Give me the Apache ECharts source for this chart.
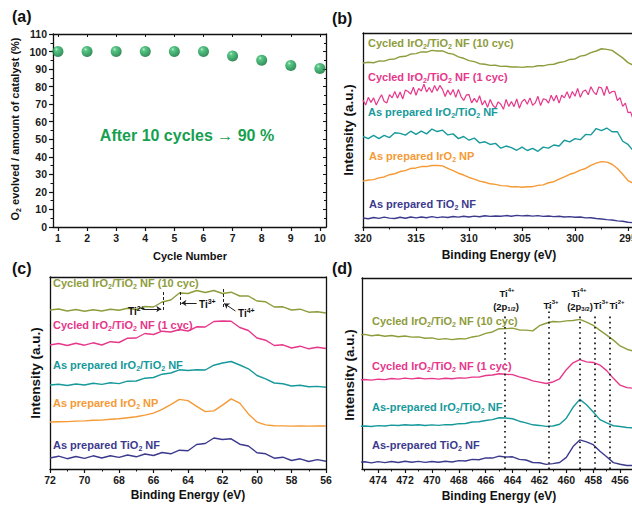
<!DOCTYPE html>
<html>
<head>
<meta charset="utf-8">
<title>XPS figure</title>
<script src="https://cdn.jsdelivr.net/npm/echarts@6.0.0/dist/echarts.min.js"></script>
<style>
html,body{margin:0;padding:0;background:#ffffff;}
#chart{width:632px;height:506px;}
</style>
</head>
<body>
<div id="chart"></div>
<script>
// ---------------- data ----------------
const cycles = [1,2,3,4,5,6,7,8,9,10];
const o2Percent = [100,100,100,100,100,100,97.5,95,92,90.3];
const cycleTicks = [1,2,3,4,5,6,7,8,9,10];

// panel (b) Ir 4d region, binding energy (eV)
const bEnergy = [320,319.5,319,318.5,318,317.5,317,316.5,316,315.5,315,314.5,314,313.5,313,312.5,312,311.5,311,310.5,310,309.5,309,308.5,308,307.5,307,306.5,306,305.5,305,304.5,304,303.5,303,302.5,302,301.5,301,300.5,300,299.5,299,298.5,298,297.5,297,296.5,296,295.5,295,294.5,294,293.5,293];
const bEnergyFine = [320,319.75,319.5,319.25,319,318.75,318.5,318.25,318,317.75,317.5,317.25,317,316.75,316.5,316.25,316,315.75,315.5,315.25,315,314.75,314.5,314.25,314,313.75,313.5,313.25,313,312.75,312.5,312.25,312,311.75,311.5,311.25,311,310.75,310.5,310.25,310,309.75,309.5,309.25,309,308.75,308.5,308.25,308,307.75,307.5,307.25,307,306.75,306.5,306.25,306,305.75,305.5,305.25,305,304.75,304.5,304.25,304,303.75,303.5,303.25,303,302.75,302.5,302.25,302,301.75,301.5,301.25,301,300.75,300.5,300.25,300,299.75,299.5,299.25,299,298.75,298.5,298.25,298,297.75,297.5,297.25,297,296.75,296.5,296.25,296,295.75,295.5,295.25,295,294.75,294.5,294.25,294,293.75,293.5,293.25,293];
const bCycled10 = [155,155.6,155.2,156.8,156.7,158.4,158.8,160.9,161.3,163.4,163.8,165.4,165.3,166.9,166.3,166.4,164.2,163.3,160.8,159.4,157.2,156.3,154.3,153.8,152.7,152.8,151.8,151.9,151.2,151.3,150.8,151.4,151.3,152.3,152.3,153.4,153.8,155.4,156.3,158.3,158.8,161.4,162.3,164.8,166.3,168.4,167.8,166.9,163.3,159.8,155.3,152.8,150.3,149.8,149];
const bCycled1 = [120,115.25,122.5,117.75,122,115.25,120.5,125,118.5,117.25,125,122,128,121.75,127.5,121,129.5,128,125.5,132,124.5,131,128.5,135,127.5,131.75,127,133.75,128.5,133.75,130,123.25,129.5,124.75,130,122.5,130,123.25,119.5,124.75,125,117.25,121.5,117.75,124,115.25,119.5,113,120.5,115,112.5,118.25,116,111.25,120.5,114,118.5,113.75,121,112.25,118.5,120.75,116,122,115,117.25,123.5,114.75,121,120.5,117,124.5,119,124.5,117,124.5,122,127.75,121.5,128,123.5,131,122.5,128,129.5,125,132.5,127.75,125,132.25,131.5,124.25,133,126,128,128.25,119.5,122.25,114,117,108,108.5,101,105.5,99,101,98,100.5,97];
const bPrepIrTi = [85.5,83.5,86.5,83.5,86.5,84.5,89,88.5,86.8,90.5,87.5,90.5,88,92.5,90.2,91.5,87,88,83.5,85.5,82,84,79.5,80.5,78,79,74.5,76.5,75,72.5,75.5,72.3,74.3,71.5,75.5,74.5,77.5,76.5,82,80.5,83.5,82.5,87.5,87,93,91,93.5,90,90,81,78,72,72.5,69.5,70];
const bPrepIr = [43.3,44.4,44.8,46.4,47.3,49.4,50.3,52.4,53.3,55.3,55.8,57.1,57.1,58.1,58.1,57.8,55.3,53.3,50.8,49.1,46.8,45.3,43.3,42.3,40.8,40.3,39.1,38.9,38,38.1,37.5,38,38.1,39.3,39.8,41.8,42.8,45.3,47.3,49.8,51.3,53.8,55.3,58.3,60.3,61.8,61.3,59.3,55.3,49.8,43.8,41.3,39.3,38.7,37.9];
const bPrepTi = [8.5,7.8,9,8.2,9.3,8.4,8,9.2,8.3,9.5,8.6,9.4,8.7,9.8,8.9,9.6,9,9.9,9.3,10.2,9.5,10.3,9.7,10.6,10,10.4,10.1,10.8,10.2,11,10.5,10.9,10.3,10.7,10,10.4,9.8,10.1,9.4,9.8,9.2,9.4,8.6,8.8,8,7.6,7,6.6,5.8,5.4,4.5,4,3.6,3.3,3];

// panel (c) Ti 3p / Ir 5p region
const cEnergy = [72,71.5,71,70.5,70,69.5,69,68.5,68,67.5,67,66.5,66,65.5,65,64.5,64,63.5,63,62.5,62,61.5,61,60.5,60,59.5,59,58.5,58,57.5,57,56.5,56];
const cCycled10 = [159,160,158,159.5,157.8,159.2,158,159.8,158.8,160.8,159.5,162.5,162,167,169,176,175.5,178.5,176.5,178.5,175.5,176.8,173,173,168,167.2,162,162.2,159,159.8,156.8,157.2,156];
const cCycled1 = [124,125.5,123.5,125.8,123.8,126.2,124,127.3,126.5,130.8,131,135.5,134.5,137.8,137,139.5,138,142.2,142,147.5,148,147.8,141.5,138.5,131,128.8,123.5,124.2,121,122.8,120.2,121.8,120.5];
const cPrepIrTi = [84,84.8,83.5,85,84,85.7,84.6,86.2,85.4,87.8,88,90.8,91.5,94.8,96,99.2,98.5,99.2,99,103.8,106,107.5,104,100.2,93.5,90.2,86,85.2,83,83.7,82.2,82.6,81.8];
const cPrepIr = [47,47.3,47.4,47.9,48.1,48.7,48.9,49.7,50.2,51.3,52.2,53.9,55.9,59.6,64.4,69.6,68.4,62.6,57.4,58.1,63.9,70.1,65.9,55.1,46.9,44.1,43.2,43.1,42.9,43.1,42.9,43.1,43];
const cPrepTi = [11,12.8,10.3,12.5,10.6,13.2,11,13.3,11.6,14,12.2,15,13.5,16.5,15.2,18.8,18.3,24.5,25.5,31,29.5,30.2,24.8,23,16.3,15.2,10.8,11.8,8.5,10.2,7.5,9.4,7.8];

// panel (d) Ti 2p region
const dEnergy = [475.5,475,474.5,474,473.5,473,472.5,472,471.5,471,470.5,470,469.5,469,468.5,468,467.5,467,466.5,466,465.5,465,464.5,464,463.5,463,462.5,462,461.5,461,460.5,460,459.5,459,458.5,458,457.5,457,456.5,456,455.5,455,454.5];
const dCycled10 = [130,130.4,129.1,129.8,128.6,129.3,128.1,128.8,127.7,128,126.6,127,125.6,126.3,125.3,126.2,126,127.9,129,131.4,132.7,135.9,136,136.4,134.7,134.5,133.8,138.8,141.2,142.9,142.5,143.5,143.8,144.9,142.3,139.2,134.3,129.7,124.8,119.2,116,114.1,112.5];
const dCycled1 = [86.3,86.7,86.1,87,86.6,87.6,87.1,88,87.3,88.1,87.3,87.8,87,87.9,87.4,88.3,88,89,89,90.6,91,92.3,91.8,91.4,89.2,87.7,85.3,84.1,82.8,84.3,87.4,96.2,102.8,105.9,103.8,103.2,100.7,95.3,87.8,81.2,78.8,78.2,77.4];
const dPrepIrTi = [41.3,41.7,41.2,42,41.7,42.5,42.1,42.9,42.4,42.8,42.2,42.7,42.3,43,42.9,43.9,44.1,45.5,45.8,47,47.8,49.6,49.4,48.7,46.3,44.7,42.8,42.2,41.3,41.7,43.3,49.2,59.8,67.4,62.3,55.2,47.8,44.6,41.9,41.1,40.2,39.9,39.4];
const dPrepTi = [6.3,7,5.9,7.1,6.2,7.3,6.3,7.5,6.5,7.4,6.4,7.3,6.5,7.5,6.8,8.1,7.7,9.3,9,10.8,10.6,12.4,11.6,11.8,9.3,8.7,6.3,6,4.5,5.2,6.3,11.3,21.7,28.2,26.2,23.6,17.2,11.8,6.2,4.6,3.4,3.4,2.9];
const dMajorTicks = [474,472,470,468,466,464,462,460,458,456];
const dMinorTicks = [475,473,471,469,467,465,463,461,459,457,455];

// annotation marks: [energy, low, high] and arrows [fromE, fromH, toE, toH]
const cTiLines = [[65.45,159,179],[64.46,164,179],[61.97,162,181]];
const cTiArrows = [[66.6,160,65.55,160],[63.5,166,64.38,166],[61.25,158,61.9,165.5]];
const dTiLines = [[464.6,0,148],[461.3,0,157],[459.0,0,151],[457.9,0,151],[456.8,0,151]];

// ---------------- styling ----------------
const F = '"Liberation Sans", Arial, Helvetica, sans-serif';
const COL = {olive:'#8e9c3c', pink:'#e6378b', teal:'#17999b', orange:'#f59a35', navy:'#3c3a8d', green:'#16a050', ink:'#111111'};

function rt(s){
  return s.split(/(~[^~]*~|\^[^^]*\^)/).filter(p => p.length).map(p => {
    if (p[0] === '~') return '{s|' + p.slice(1,-1) + '}';
    if (p[0] === '^') return '{p|' + p.slice(1,-1) + '}';
    return '{n|' + p + '}';
  }).join('');
}
function richFor(color, size){
  const small = Math.round(size * 0.66);
  const base = {fill:color, color:color, fontFamily:F, fontWeight:'bold'};
  return {
    n: Object.assign({}, base, {fontSize:size, lineHeight:size + 3}),
    s: Object.assign({}, base, {fontSize:small, lineHeight:small + 1, verticalAlign:'bottom'}),
    p: Object.assign({}, base, {fontSize:small, lineHeight:small + 1, verticalAlign:'top'})
  };
}
function txt(s, x, y, color, size, align, rot){
  const el = {type:'text', x:x, y:y, silent:true, z:100,
    style:{text:rt(s), rich:richFor(color, size), fill:color, font:'bold ' + size + 'px ' + F,
      align:align || 'left', verticalAlign:'middle'}};
  if (rot) el.rotation = rot;
  return el;
}

const lineStyleAx = {show:true, onZero:false, lineStyle:{color:COL.ink, width:1.3}};
const tickLbl = {fontSize:10.5, fontWeight:'bold', color:'#1a1a1a', fontFamily:F};
const noSplit = {show:false};
const LW = 1.4;

function spec(name, E, V, color, xi, yi, extra){
  return Object.assign({
    type:'line', name:name, xAxisIndex:xi, yAxisIndex:yi,
    data:V.map((v, i) => [E[i], v]),
    showSymbol:false, symbol:'none', silent:true,
    lineStyle:{color:color, width:LW}, itemStyle:{color:color}
  }, extra || {});
}

const PI2 = Math.PI / 2;

const option = {
  animation:false,
  backgroundColor:'#ffffff',
  grid:[
    {left:53, top:34, width:273, height:193, containLabel:false, outerBoundsMode:'none'},
    {left:363, top:33, width:318, height:194, containLabel:false, outerBoundsMode:'none'},
    {left:50, top:277, width:276, height:192, containLabel:false, outerBoundsMode:'none'},
    {left:362, top:278, width:285, height:191, containLabel:false, outerBoundsMode:'none'}
  ],
  xAxis:[
    {gridIndex:0, type:'value', min:0.83, max:10.21, position:'bottom', axisLine:lineStyleAx,
      axisTick:{show:true, inside:false, length:4, customValues:cycleTicks, lineStyle:{color:COL.ink, width:1.2}},
      axisLabel:Object.assign({customValues:cycleTicks, margin:5}, tickLbl), splitLine:noSplit},
    {gridIndex:0, type:'value', min:0.83, max:10.21, position:'top', axisLine:lineStyleAx,
      axisTick:{show:true, inside:true, length:3, customValues:cycleTicks, lineStyle:{color:COL.ink, width:1}},
      axisLabel:{show:false}, splitLine:noSplit},
    {gridIndex:1, type:'value', min:290, max:320, interval:5, inverse:true, position:'bottom', axisLine:lineStyleAx,
      axisTick:{show:true, inside:false, length:4, lineStyle:{color:COL.ink, width:1.2}},
      minorTick:{show:true, splitNumber:2, length:2.5, lineStyle:{color:COL.ink, width:1}},
      axisLabel:Object.assign({margin:5, showMinLabel:false}, tickLbl), splitLine:noSplit, minorSplitLine:noSplit},
    {gridIndex:1, type:'value', min:0, max:1, position:'top', axisLine:lineStyleAx, axisTick:{show:false}, axisLabel:{show:false}, splitLine:noSplit},
    {gridIndex:2, type:'value', min:56, max:72, interval:2, inverse:true, position:'bottom', axisLine:lineStyleAx,
      axisTick:{show:true, inside:false, length:4, lineStyle:{color:COL.ink, width:1.2}},
      minorTick:{show:true, splitNumber:2, length:2.5, lineStyle:{color:COL.ink, width:1}},
      axisLabel:Object.assign({margin:5}, tickLbl), splitLine:noSplit, minorSplitLine:noSplit},
    {gridIndex:2, type:'value', min:0, max:1, position:'top', axisLine:lineStyleAx, axisTick:{show:false}, axisLabel:{show:false}, splitLine:noSplit},
    {gridIndex:3, type:'value', min:454, max:475.2, inverse:true, position:'bottom', axisLine:lineStyleAx,
      axisTick:{show:true, inside:false, length:4, customValues:dMajorTicks, lineStyle:{color:COL.ink, width:1.2}},
      axisLabel:Object.assign({customValues:dMajorTicks, margin:5}, tickLbl), splitLine:noSplit},
    {gridIndex:3, type:'value', min:454, max:475.2, inverse:true, position:'bottom', axisLine:{show:false},
      axisTick:{show:true, inside:false, length:2.5, customValues:dMinorTicks, lineStyle:{color:COL.ink, width:1}},
      axisLabel:{show:false}, splitLine:noSplit},
    {gridIndex:3, type:'value', min:0, max:1, position:'top', axisLine:lineStyleAx, axisTick:{show:false}, axisLabel:{show:false}, splitLine:noSplit}
  ],
  yAxis:[
    {gridIndex:0, type:'value', min:0, max:110, interval:10, position:'left', axisLine:lineStyleAx,
      axisTick:{show:true, inside:false, length:4, lineStyle:{color:COL.ink, width:1.2}},
      minorTick:{show:true, splitNumber:2, length:2.5, lineStyle:{color:COL.ink, width:1}},
      axisLabel:Object.assign({margin:6}, tickLbl), splitLine:noSplit, minorSplitLine:noSplit},
    {gridIndex:0, type:'value', min:0, max:110, interval:10, position:'right', axisLine:lineStyleAx,
      axisTick:{show:true, inside:true, length:3, lineStyle:{color:COL.ink, width:1}},
      minorTick:{show:true, splitNumber:2, length:2, lineStyle:{color:COL.ink, width:1}},
      axisLabel:{show:false}, splitLine:noSplit, minorSplitLine:noSplit},
    {gridIndex:1, type:'value', min:0, max:183.3, position:'left', axisLine:lineStyleAx, axisTick:{show:false}, axisLabel:{show:false}, splitLine:noSplit},
    {gridIndex:2, type:'value', min:0, max:192, position:'left', axisLine:lineStyleAx, axisTick:{show:false}, axisLabel:{show:false}, splitLine:noSplit},
    {gridIndex:2, type:'value', min:0, max:192, position:'right', axisLine:lineStyleAx, axisTick:{show:false}, axisLabel:{show:false}, splitLine:noSplit},
    {gridIndex:3, type:'value', min:0, max:185, position:'left', axisLine:lineStyleAx, axisTick:{show:false}, axisLabel:{show:false}, splitLine:noSplit}
  ],
  series:[
    {type:'scatter', name:'O2 evolved', xAxisIndex:0, yAxisIndex:0, silent:true,
      data:cycles.map((c, i) => [c, o2Percent[i]]), symbolSize:11,
      itemStyle:{color:{type:'radial', x:0.36, y:0.3, r:0.75, colorStops:[
        {offset:0, color:'#b9efcc'}, {offset:0.2, color:'#34b86b'}, {offset:0.6, color:'#119649'}, {offset:1, color:'#086630'}]}}},

    spec('b10', bEnergy, bCycled10, COL.olive, 2, 2),
    spec('b1', bEnergyFine, bCycled1, COL.pink, 2, 2, {lineStyle:{color:COL.pink, width:1.2}}),
    spec('bIrTi', bEnergy, bPrepIrTi, COL.teal, 2, 2),
    spec('bIr', bEnergy, bPrepIr, COL.orange, 2, 2),
    spec('bTi', bEnergy, bPrepTi, COL.navy, 2, 2),

    spec('c10', cEnergy, cCycled10, COL.olive, 4, 3, {
      markLine:{silent:true, animation:false, symbol:['none','none'], symbolSize:6, label:{show:false},
        lineStyle:{color:'#222', type:[3,2], width:1},
        data: cTiLines.map(l => [{coord:[l[0], l[1]]}, {coord:[l[0], l[2]]}]).concat(
          cTiArrows.map(a => [{coord:[a[0], a[1]], lineStyle:{type:'solid', color:'#222', width:1}}, {coord:[a[2], a[3]], symbol:'arrow', symbolSize:5}]))
      }}),
    spec('c1', cEnergy, cCycled1, COL.pink, 4, 3),
    spec('cIrTi', cEnergy, cPrepIrTi, COL.teal, 4, 3),
    spec('cIr', cEnergy, cPrepIr, COL.orange, 4, 3),
    spec('cTi', cEnergy, cPrepTi, COL.navy, 4, 3),

    spec('d10', dEnergy, dCycled10, COL.olive, 6, 5, {
      markLine:{silent:true, animation:false, symbol:['none','none'], label:{show:false},
        lineStyle:{color:'#222', type:[1.6,3.6], width:1.8},
        data: dTiLines.map(l => [{coord:[l[0], l[1]]}, {coord:[l[0], l[2]]}])
      }}),
    spec('d1', dEnergy, dCycled1, COL.pink, 6, 5),
    spec('dIrTi', dEnergy, dPrepIrTi, COL.teal, 6, 5),
    spec('dTi', dEnergy, dPrepTi, COL.navy, 6, 5)
  ],
  graphic:[
    // panel letters
    txt('(a)', 12, 16, COL.ink, 16, 'left'),
    txt('(b)', 332, 18, COL.ink, 16, 'left'),
    txt('(c)', 12, 268, COL.ink, 16, 'left'),
    txt('(d)', 332, 268, COL.ink, 16, 'left'),
    // axis titles
    txt('O~2~ evolved / amount of catalyst (%)', 15, 129, COL.ink, 11, 'center', PI2),
    txt('Cycle Number', 190, 256, COL.ink, 11, 'center'),
    txt('Intensity (a.u.)', 348, 130, COL.ink, 13.5, 'center', PI2),
    txt('Binding Energy (eV)', 499, 255, COL.ink, 12, 'center'),
    txt('Intensity (a.u.)', 35, 373, COL.ink, 13.5, 'center', PI2),
    txt('Binding Energy (eV)', 188, 495, COL.ink, 12, 'center'),
    txt('Intensity (a.u.)', 349, 375, COL.ink, 13.5, 'center', PI2),
    txt('Binding Energy (eV)', 499, 496, COL.ink, 12, 'center'),
    // panel (a) note
    txt('After 10 cycles \u2192 90 %', 187, 135, COL.green, 16, 'center'),
    // panel (b) curve labels
    txt('Cycled IrO~2~/TiO~2~ NF (10 cyc)', 368, 43, COL.olive, 11, 'left'),
    txt('Cycled IrO~2~/TiO~2~ NF (1 cyc)', 368, 77, COL.pink, 11, 'left'),
    txt('As prepared IrO~2~/TiO~2~ NF', 368, 112, COL.teal, 11, 'left'),
    txt('As prepared IrO~2~ NP', 369, 156, COL.orange, 11, 'left'),
    txt('As prepared TiO~2~ NF', 369, 204, COL.navy, 11, 'left'),
    // panel (c) curve labels
    txt('Cycled IrO~2~/TiO~2~ NF (10 cyc)', 53, 283, COL.olive, 11, 'left'),
    txt('Cycled IrO~2~/TiO~2~ NF (1 cyc)', 53, 325, COL.pink, 11, 'left'),
    txt('As prepared IrO~2~/TiO~2~ NF', 53, 365, COL.teal, 11, 'left'),
    txt('As prepared IrO~2~ NP', 53, 403, COL.orange, 11, 'left'),
    txt('As prepared TiO~2~ NF', 53, 445, COL.navy, 11, 'left'),
    txt('Ti^2+^', 128, 311, COL.ink, 10, 'left'),
    txt('Ti^3+^', 199, 304, COL.ink, 10, 'left'),
    txt('Ti^4+^', 238, 313, COL.ink, 10, 'left'),
    // panel (d) curve labels
    txt('Cycled IrO~2~/TiO~2~ NF (10 cyc)', 372, 321, COL.olive, 11, 'left'),
    txt('Cycled IrO~2~/TiO~2~ NF (1 cyc)', 372, 366, COL.pink, 11, 'left'),
    txt('As-prepared IrO~2~/TiO~2~ NF', 372, 407, COL.teal, 11, 'left'),
    txt('As-prepared TiO~2~ NF', 372, 445, COL.navy, 11, 'left'),
    txt('Ti^4+^', 507, 293, COL.ink, 9.5, 'center'),
    txt('(2p~1/2~)', 506, 306, COL.ink, 9.5, 'center'),
    txt('Ti^3+^', 551, 305, COL.ink, 9.5, 'center'),
    txt('Ti^4+^', 579, 293, COL.ink, 9.5, 'center'),
    txt('(2p~3/2~)', 580, 306, COL.ink, 9.5, 'center'),
    txt('Ti^3+^', 601, 305, COL.ink, 9.5, 'center'),
    txt('Ti^2+^', 617, 305, COL.ink, 9.5, 'center')
  ]
};

const chart = echarts.init(document.getElementById('chart'), null, {renderer:'svg'});
chart.setOption(option);
</script>
</body>
</html>
